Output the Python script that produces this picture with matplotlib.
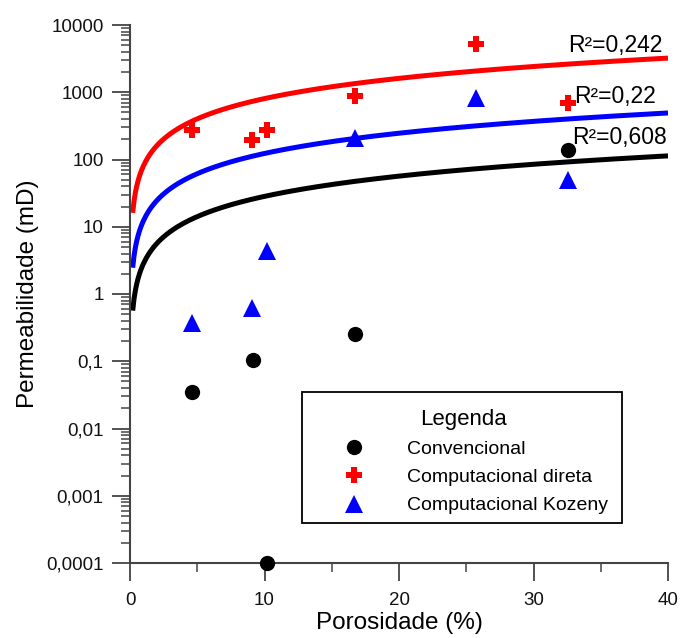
import numpy as np
import matplotlib
matplotlib.use("Agg")
import matplotlib.pyplot as plt
from matplotlib.lines import Line2D
from matplotlib.patches import Rectangle

plt.rcParams['font.family'] = ['Liberation Sans', 'DejaVu Sans']

# ---- data ----
poro_conv = [4.6, 9.15, 10.15, 16.7, 32.55]
perm_conv = [0.035, 0.105, 0.0001, 0.25, 138]

poro_comp = [4.6, 9.1, 10.2, 16.7, 25.7, 32.55]
perm_direta = [275, 195, 275, 890, 5200, 690]
perm_kozeny = [0.37, 0.62, 4.4, 209, 830, 49]

# power-law trend lines  k = a * phi^b
trend_names = ['Convencional', 'Computacional direta', 'Computacional Kozeny']
trend_a = [2.83, 80.5, 12.3]
trend_b = [1.0, 1.0, 1.0]
trend_r2 = ['R²=0,608', 'R²=0,242', 'R²=0,22']
trend_range = (0.2, 40)

yticks = [1e-4, 1e-3, 1e-2, 1e-1, 1, 10, 100, 1000, 10000]
yticklabels = ['0,0001', '0,001', '0,01', '0,1', '1', '10', '100', '1000', '10000']
xticks = [0, 10, 20, 30, 40]

colors = ['black', '#ff0000', '#0000ff']

fig = plt.figure(figsize=(6.81, 6.38), dpi=100)
ax = fig.add_axes([130/681, 1-563/638, 538/681, 538/638])
ax.set_yscale('log')
ax.set_xlim(0, 40)
ax.set_ylim(1e-4, 1e4)

phi = np.linspace(trend_range[0], trend_range[1], 400)
for a, b, c in zip(trend_a, trend_b, colors):
    ax.plot(phi, a * phi ** b, color=c, lw=3.6, solid_capstyle='butt', zorder=2)

ax.plot(poro_conv, perm_conv, 'o', color='black', ms=11, mew=0, clip_on=False, zorder=3)
ax.plot(poro_comp, perm_direta, 'P', color='#ff0000', ms=11, mew=0, clip_on=False, zorder=3)
ax.plot(poro_comp, perm_kozeny, '^', color='#0000ff', ms=13, mew=0, clip_on=False, zorder=3)

# R² labels
ax.text(32.55, 5000, trend_r2[1], fontsize=16.5, va='center', ha='left')
ax.text(33.0, 850, trend_r2[2], fontsize=16.5, va='center', ha='left')
ax.text(32.9, 209, trend_r2[0], fontsize=16.5, va='center', ha='left')

# axes style
for s in ['top', 'right']:
    ax.spines[s].set_visible(False)
for s in ['left', 'bottom']:
    ax.spines[s].set_color('#444444')
    ax.spines[s].set_linewidth(1.5)

ax.set_yticks(yticks)
ax.set_yticklabels(yticklabels)
ax.set_xticks(xticks)
ax.set_xticks([5, 15, 25, 35], minor=True)
ax.yaxis.set_minor_locator(matplotlib.ticker.LogLocator(base=10, subs=np.arange(2, 10), numticks=20))
ax.yaxis.set_minor_formatter(matplotlib.ticker.NullFormatter())
ax.tick_params(which='major', direction='out', length=13, width=1.3, color='#444444',
               labelsize=13.5, labelcolor='#111111')
ax.tick_params(which='minor', direction='out', length=6.5, width=1.1, color='#444444')
ax.tick_params(axis='x', which='major', pad=8)
ax.tick_params(axis='y', which='major', pad=6)

ax.set_xlabel('Porosidade (%)', fontsize=17.5, labelpad=2)
ax.set_ylabel('Permeabilidade (mD)', fontsize=17.5, labelpad=5)

handles = [
    Line2D([], [], ls='', marker='o', color='black', ms=11, mew=0),
    Line2D([], [], ls='', marker='P', color='#ff0000', ms=11, mew=0),
    Line2D([], [], ls='', marker='^', color='#0000ff', ms=13, mew=0),
]
frame = Rectangle((302/681, 1-523/638), 320/681, 131/638, transform=fig.transFigure,
                  facecolor='white', edgecolor='black', lw=1.3, zorder=4, clip_on=False)
ax.add_artist(frame)
leg = ax.legend(handles, trend_names, title='Legenda', loc='upper left',
                bbox_to_anchor=(302/681, 1-392/638), bbox_transform=fig.transFigure,
                fontsize=14, title_fontsize=16, frameon=False,
                borderpad=0.85, handlelength=3.66, handletextpad=0.9, labelspacing=0.55,
                borderaxespad=0)
leg.set_zorder(6)

fig.savefig('out.png', dpi=100)
